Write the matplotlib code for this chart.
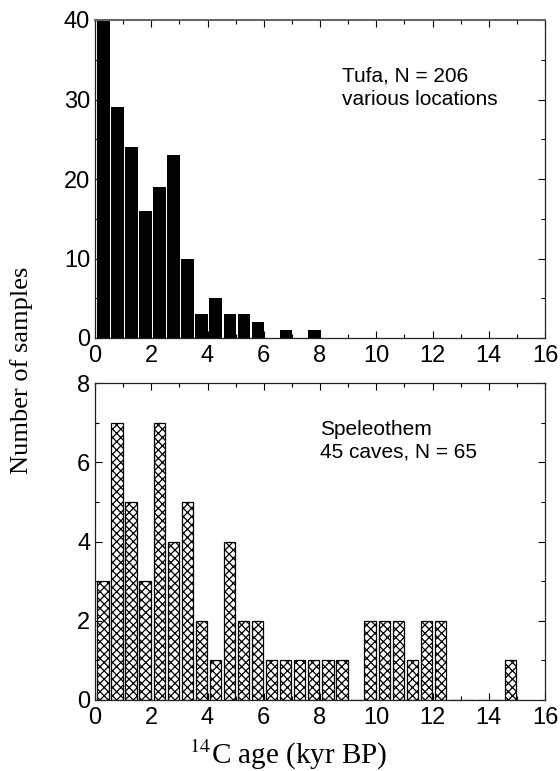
import matplotlib
matplotlib.use('Agg')
import matplotlib.pyplot as plt
import numpy as np

plt.rcParams['font.family'] = ['Liberation Sans', 'DejaVu Sans']
plt.rcParams['hatch.linewidth'] = 0.9

bin_width = 0.5
tufa_counts = [40, 29, 24, 16, 19, 23, 10, 3, 5, 3, 3, 2, 0, 1, 0, 1]
speleothem_counts = [3, 7, 5, 3, 7, 4, 5, 2, 1, 4, 2, 2, 1, 1, 1, 1, 1, 1, 0,
                     2, 2, 2, 1, 2, 2, 0, 0, 0, 0, 1]
x_ticks = [0, 2, 4, 6, 8, 10, 12, 14, 16]
tufa_yticks = [0, 10, 20, 30, 40]
speleothem_yticks = [0, 2, 4, 6, 8]

W, H = 560, 771
fig = plt.figure(figsize=(W / 100, H / 100), dpi=100)


def panel(top, bottom, counts, yticks, yminor, offset, width, **bar_style):
    ax = fig.add_axes([95 / W, 1 - bottom / H, 450 / W, (bottom - top) / H])
    lefts = np.arange(len(counts)) * bin_width
    ax.bar(lefts + offset, counts, width=width, align='edge', **bar_style)
    ax.set_xlim(0, 16)
    ax.set_ylim(0, yticks[-1])
    ax.set_xticks(x_ticks)
    ax.set_xticks(np.arange(1, 16, 2), minor=True)
    ax.set_yticks(yticks)
    ax.set_yticks(yminor, minor=True)
    ax.tick_params(which='major', direction='in', top=True, right=True,
                   length=5, width=0.8, labelsize=17)
    ax.tick_params(which='minor', direction='in', top=True, right=True,
                   length=3, width=0.8)
    ax.tick_params(axis='x', which='major', pad=5)
    ax.tick_params(axis='y', which='major', pad=3.5)
    for s in ax.spines.values():
        s.set_linewidth(0.9)
        s.set_color('#222222')
    return ax


ax1 = panel(20, 338, tufa_counts, tufa_yticks, [5, 15, 25, 35], 0.07, 0.45,
            color='black', linewidth=0)
ax2 = panel(383, 700, speleothem_counts, speleothem_yticks, [1, 3, 5, 7], 0.08, 0.40,
            facecolor='white', edgecolor='black', hatch='xxxx', linewidth=0.9)
ax1.spines['top'].set_linewidth(1.5)
ax1.spines['top'].set_color('#666666')

fig.text(342 / W, 1 - 82 / H, 'Tufa, N = 206', fontsize=15, va='baseline')
fig.text(342 / W, 1 - 105 / H, 'various locations', fontsize=15, va='baseline')
fig.text(320 / W, 1 - 435 / H, 'Speleothem', fontsize=15, va='baseline')
fig.text(320 / W, 1 - 458 / H, '45 caves, N = 65', fontsize=15, va='baseline')

fig.text(28 / W, 1 - 370 / H, 'Number of samples', rotation=90, fontsize=19,
         family='Liberation Serif', ha='center', va='baseline',
         rotation_mode='anchor')
fig.text(288 / W, 1 - 764 / H, r'$^{14}$C age (kyr BP)', fontsize=21,
         family='Liberation Serif', ha='center', va='baseline',
         math_fontfamily='stix')

plt.savefig('out.png', dpi=100)
